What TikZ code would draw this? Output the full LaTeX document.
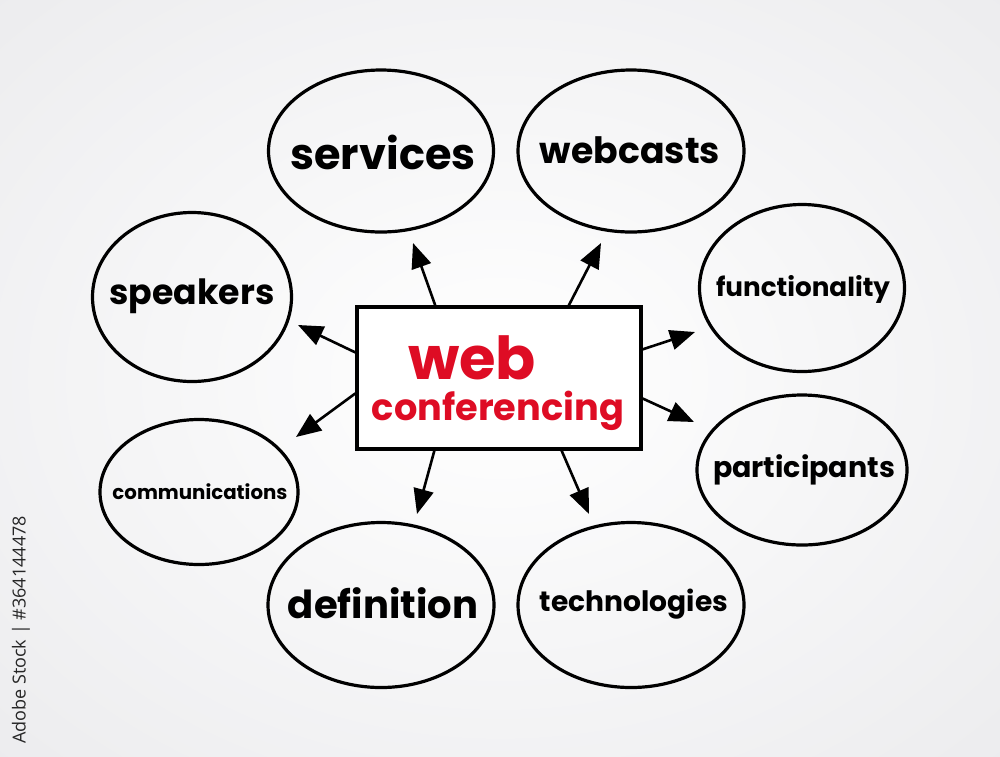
\documentclass[tikz,border=0pt]{standalone}
\usepackage{fontspec}
\setmainfont{Poppins}
\newfontfamily\wmfont{Open Sans}
\usetikzlibrary{shapes.geometric,arrows.meta,calc}
\definecolor{wred}{RGB}{222,12,36}
\definecolor{bgedge}{RGB}{228,228,231}
\newcommand{\fitlbl}[2]{\resizebox{#1pt}{!}{#2}}
\begin{document}
\begin{tikzpicture}[x=1pt,y=-1pt,
  bubble/.style={draw=black, line width=3.2pt, ellipse, inner sep=0pt},
  lbl/.style={inner sep=0pt, text=black, font=\bfseries},
  box/.style={draw=black, line width=3.2pt, fill=white, minimum width=284pt, minimum height=142pt, inner sep=0pt},
  arr/.style={line width=2.6pt, -{Triangle[length=25pt,width=20pt]}, shorten >=0pt}
]
\useasboundingbox (0,0) rectangle (1000,756);
% background
\begin{scope}
\clip (0,0) rectangle (1000,756);
\fill[bgedge] (0,0) rectangle (1000,756);
\shade[inner color=white, outer color=bgedge] (-520,-400) rectangle (1520,1156);
\end{scope}

% bubbles
\node[bubble, minimum width=225pt, minimum height=162pt] (services) at (381,151) {};
\node[bubble, minimum width=226pt, minimum height=162pt] (webcasts) at (631,151) {};
\node[bubble, minimum width=199pt, minimum height=169pt] (speakers) at (192,297) {};
\node[bubble, minimum width=205pt, minimum height=167pt] (functionality) at (802,288) {};
\node[bubble, minimum width=198pt, minimum height=145pt] (communications) at (199,492) {};
\node[bubble, minimum width=210pt, minimum height=150pt] (participants) at (802,470) {};
\node[bubble, minimum width=226pt, minimum height=165pt] (definition) at (381,605) {};
\node[bubble, minimum width=226pt, minimum height=165pt] (technologies) at (631,605) {};

% labels
\node[lbl] (tservices) at (383,152) {\fitlbl{185}{services}};
\node[lbl] (twebcasts) at (630,150) {\fitlbl{180}{webcasts}};
\node[lbl] (tspeakers) at (192,296) {\fitlbl{165}{speakers}};
\node[lbl] (tfunctionality) at (803,289) {\fitlbl{174}{functionality}};
\node[lbl] (tcommunications) at (200,492) {\fitlbl{175}{communications}};
\node[lbl] (tparticipants) at (804,470) {\fitlbl{182}{participants}};
\node[lbl] (tdefinition) at (383,603) {\fitlbl{190}{definition}};
\node[lbl] (ttechnologies) at (634,604) {\fitlbl{188}{technologies}};

% center box
\node[box] (center) at (499,378) {};
\node[inner sep=0pt, text=wred, font=\bfseries] (tweb) at (472,358) {\fitlbl{128}{web}};
\node[inner sep=0pt, text=wred, font=\bfseries] (tconf) at (498,411) {\fitlbl{252}{conferencing}};

% arrow tips
\coordinate (pservices) at (413,243);
\coordinate (pwebcasts) at (601,243);
\coordinate (pspeakers) at (298,325);
\coordinate (pcommunications) at (296,437);
\coordinate (pfunctionality) at (695,332);
\coordinate (pparticipants) at (694,422);
\coordinate (pdefinition) at (417,514);
\coordinate (ptechnologies) at (589,514);

% arrows
\draw[arr] ($(center.north west)!0.278!(center.north east)$) -- (pservices);
\draw[arr] ($(center.north west)!0.743!(center.north east)$) -- (pwebcasts);
\draw[arr] ($(center.north west)!0.324!(center.south west)$) -- (pspeakers);
\draw[arr] ($(center.north west)!0.606!(center.south west)$) -- (pcommunications);
\draw[arr] ($(center.north east)!0.303!(center.south east)$) -- (pfunctionality);
\draw[arr] ($(center.north east)!0.641!(center.south east)$) -- (pparticipants);
\draw[arr] ($(center.south west)!0.275!(center.south east)$) -- (pdefinition);
\draw[arr] ($(center.south west)!0.718!(center.south east)$) -- (ptechnologies);

% side credit
\node[rotate=90, inner sep=0pt, text=black!85, font=\wmfont\fontsize{18}{20}\selectfont] (credit) at (21,630) {Adobe Stock | \#364144478};
\end{tikzpicture}
\end{document}
